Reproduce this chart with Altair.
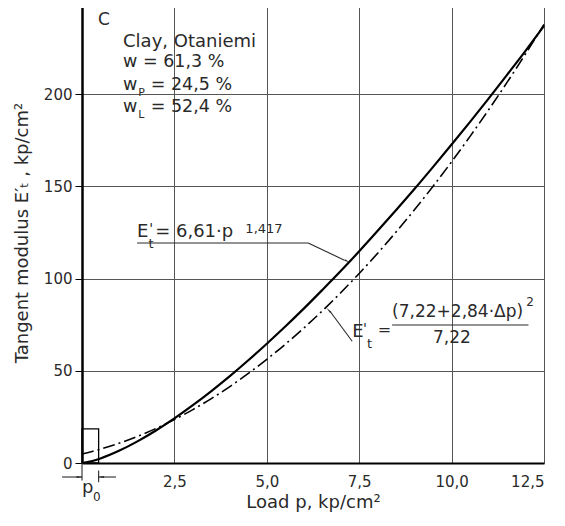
import altair as alt
import pandas as pd

# ---- data ----
p_load = [0, 0.25, 0.5, 1, 1.5, 2, 2.5, 3, 3.5, 4, 4.5, 5, 5.5, 6, 6.5, 7, 7.5,
          8, 8.5, 9, 9.5, 10, 10.5, 11, 11.5, 12, 12.5]
e_power = [0, 0.93, 2.48, 6.61, 11.74, 17.65, 24.2, 31.35, 39.0, 47.1, 55.7, 64.7,
           74.0, 83.7, 93.8, 104.1, 114.8, 125.9, 137.2, 148.7, 160.6, 172.7,
           185.0, 197.6, 210.5, 223.5, 237.0]
e_quad = [4.89, 6.13, 7.51, 10.68, 14.42, 18.71, 23.56, 28.97, 34.94, 41.46, 48.55,
          56.19, 64.39, 73.15, 82.47, 92.35, 102.79, 113.78, 125.34, 137.45, 150.12,
          163.35, 177.14, 191.48, 206.39, 221.85, 237.87]

x_ticks = [0, 2.5, 5.0, 7.5, 10.0, 12.5]
y_ticks = [0, 50, 100, 150, 200, 250]

p0 = 0.45
p0_box_height = 18.5

# annotation texts (x in load units, y in modulus units)
txt_x = [0.43, 1.11, 1.11, 1.65, 1.11, 1.52, 1.86, 1.11, 1.52, 1.86,
         1.49, 1.82, 1.80, 1.98, 4.42,
         7.31, 7.60, 7.71, 8.00, 8.39, 12.02, 10.01,
         0.0, 0.30]
txt_y = [237.5, 225.6, 214.8, 214.8, 202.3, 199.0, 202.3, 190.3, 187.0, 190.3,
         122.6, 124.5, 116.5, 122.6, 124.5,
         68.3, 70.5, 62.5, 69.5, 79.2, 85.0, 65.1,
         -16.3, -20.5]
txt_s = ["C", "Clay, Otaniemi", "w", "= 61,3 %", "w", "P", "= 24,5 %", "w", "L", "= 52,4 %",
         "E", "'", "t", "= 6,61·p", "1,417",
         "E", "'", "t", "=", "(7,22+2,84·Δp)", "2", "7,22",
         "p", "0"]
txt_size = [17, 18, 17.5, 17.5, 17.5, 11, 17.5, 17.5, 11, 17.5,
            18, 14, 13, 18, 13,
            18, 14, 13, 16, 17, 12, 17,
            18, 12]
txt_align = ["left"] * 21 + ["center", "left", "left"]

# leader / dimension lines
seg_x = [1.49, 6.12, 7.31, 8.39, 0.0, p0, -0.54, p0]
seg_y = [119.3, 119.3, 66.0, 74.8, 0.0, -4.0, -7.6, -7.6]
seg_x2 = [6.12, 7.10, 6.72, 12.08, 0.0, p0, 0.0, 0.92]
seg_y2 = [119.3, 110.0, 82.0, 74.8, -9.5, -10.5, -7.6, -7.6]

arr_x = [7.16, 6.69, -0.09, p0 + 0.09]
arr_y = [109.6, 82.5, -7.6, -7.6]
arr_ang = [114, 318, 90, 270]

# ---- tables ----
curves = pd.DataFrame({
    "p": p_load * 2,
    "E": e_power + e_quad,
    "curve": ["power"] * len(p_load) + ["quad"] * len(p_load),
})
texts = pd.DataFrame({"x": txt_x, "y": txt_y, "t": txt_s, "s": txt_size, "a": txt_align})
segs = pd.DataFrame({"x": seg_x, "y": seg_y, "x2": seg_x2, "y2": seg_y2})
arrows = pd.DataFrame({"x": arr_x, "y": arr_y, "ang": arr_ang})
box = pd.DataFrame({"x": [0.0], "x2": [p0], "y": [0.0], "y2": [p0_box_height]})

FONT = "DejaVu Sans"
INK = "#2a2a2a"

xscale = alt.Scale(domain=[0, 12.5], nice=False, zero=False)
yscale = alt.Scale(domain=[0, 250], nice=False)

xaxis = alt.Axis(
    values=x_ticks, grid=True, gridColor="#555", gridWidth=1,
    domainColor="black", domainWidth=2, ticks=False,
    labelExpr="datum.value == 0 ? '' : replace(format(datum.value, '.1f'), '.', ',')",
    labelFont=FONT, labelFontSize=15, labelColor=INK, labelPadding=11,
    title="Load   p,  kp/cm²", titleFont=FONT, titleFontSize=18,
    titleFontWeight="normal", titleColor=INK, titlePadding=4,
)
yaxis = alt.Axis(
    values=y_ticks, grid=True, gridColor="#555", gridWidth=1,
    domainColor="black", domainWidth=2.5, tickColor="black", tickSize=7,
    labelFont=FONT, labelFontSize=15, labelColor=INK, labelPadding=3,
    title="Tangent  modulus  E′ₜ ,  kp/cm²", titleFont=FONT, titleFontSize=18,
    titleFontWeight="normal", titleColor=INK, titlePadding=12,
)

solid = alt.Chart(curves).transform_filter(alt.datum.curve == "power").mark_line(
    color="black", strokeWidth=2.2, interpolate="monotone"
).encode(
    x=alt.X("p:Q", scale=xscale, axis=xaxis),
    y=alt.Y("E:Q", scale=yscale, axis=yaxis),
)
dashdot = alt.Chart(curves).transform_filter(alt.datum.curve == "quad").mark_line(
    color="black", strokeWidth=1.6, strokeDash=[12, 4, 2, 4], interpolate="monotone"
).encode(x=alt.X("p:Q", scale=xscale), y=alt.Y("E:Q", scale=yscale))

rect = alt.Chart(box).mark_rect(fill=None, stroke="black", strokeWidth=1.3).encode(
    x=alt.X("x:Q", scale=xscale), x2="x2", y=alt.Y("y:Q", scale=yscale), y2="y2"
)
rules = alt.Chart(segs).mark_rule(color=INK, strokeWidth=1.1).encode(
    x=alt.X("x:Q", scale=xscale), x2="x2", y=alt.Y("y:Q", scale=yscale), y2="y2"
)
heads = alt.Chart(arrows).mark_point(
    shape="wedge", filled=True, color=INK, size=55, opacity=1
).encode(
    x=alt.X("x:Q", scale=xscale), y=alt.Y("y:Q", scale=yscale),
    angle=alt.Angle("ang:Q", scale=None),
)

def text_layer(align):
    return alt.Chart(texts).transform_filter(alt.datum.a == align).mark_text(
        font=FONT, color=INK, align=align, baseline="alphabetic"
    ).encode(
        x=alt.X("x:Q", scale=xscale), y=alt.Y("y:Q", scale=yscale),
        text="t:N", size=alt.Size("s:Q", scale=None),
    )

chart = alt.layer(
    solid, dashdot, rect, rules, heads, text_layer("left"), text_layer("center")
).properties(
    width=462, height=461,
    autosize=alt.AutoSizeParams(type="none"),
    padding={"left": 74, "top": -6, "right": 13, "bottom": 52},
    background="white",
).configure_view(stroke=None)

chart.save("out.html", embed_options={"renderer": "svg", "actions": False})
